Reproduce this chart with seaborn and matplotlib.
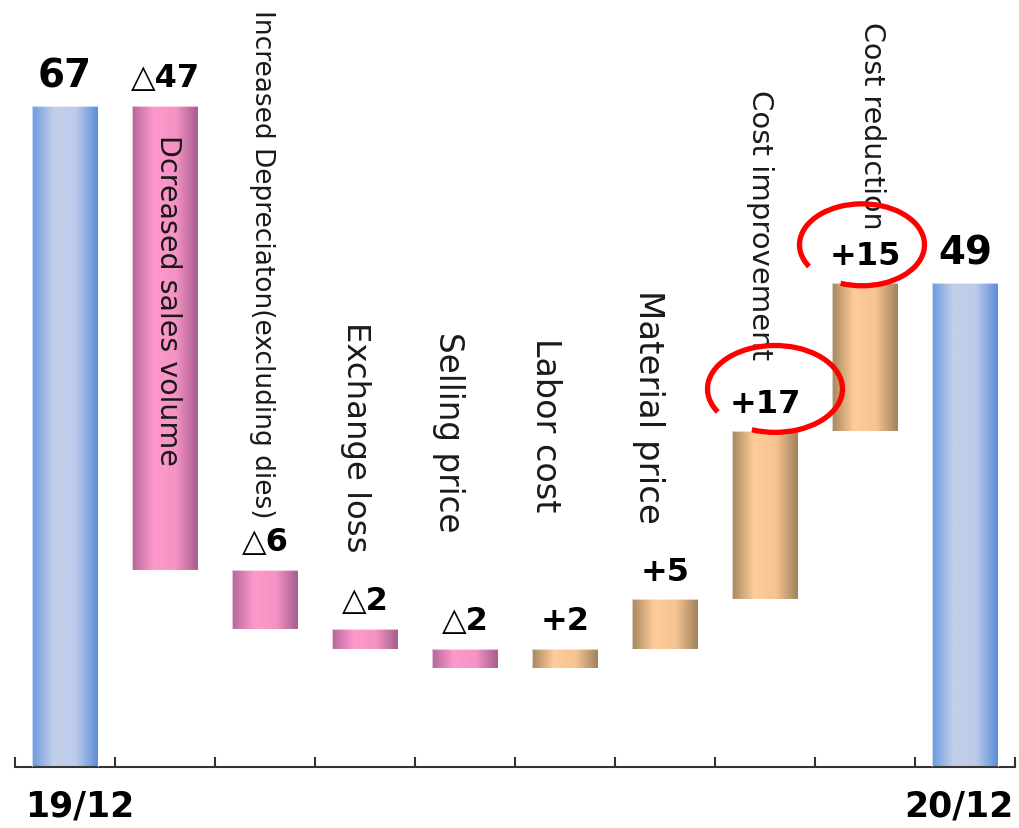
import numpy as np
import matplotlib
matplotlib.use("Agg")
import matplotlib.pyplot as plt
from matplotlib.patches import Arc
import seaborn as sns

sns.set_style("white")
plt.rcParams['font.family'] = ['DejaVu Sans']

# data
categories = ["19/12", "Dcreased sales volume", "Increased Depreciaton(excluding dies)",
              "Exchange loss", "Selling price", "Labor cost", "Material price",
              "Cost improvement", "Cost reduction", "20/12"]
values = [67, -47, -6, -2, -2, 2, 5, 17, 15, 49]
value_labels = ["67", "△47", "△6", "△2", "△2", "+2", "+5", "+17", "+15", "49"]
circled = ["+17", "+15"]

# label placement (offset from bar centre, top of text in data units) and size
label_dx = [0, 0.03, -0.03, -0.09, -0.17, -0.19, -0.17, -0.05, 0.07, 0]
label_top = [0, 64.1, 76.8, 45.2, 44.2, 43.6, 48.4, 68.7, 75.6, 0]
label_size = [0, 20.5, 19, 23.3, 23.5, 24, 24.5, 21, 20.5, 0]

# waterfall geometry
n = len(values)
x = np.arange(n)
bottoms, heights, kinds = [], [], []
run = 0
for i, v in enumerate(values):
    if i == 0 or i == n - 1:
        bottoms.append(0); heights.append(v); kinds.append("total")
        run = v
    else:
        lo = min(run, run + v)
        bottoms.append(lo); heights.append(abs(v))
        kinds.append("down" if v < 0 else "up")
        run += v

cmaps = {
    "total": sns.blend_palette(["#6a99df", "#c4d0ea", "#bccbea", "#5a8dd8"], as_cmap=True),
    "down": sns.blend_palette(["#b3679a", "#ff99cc", "#f593c4", "#a65d8d"], as_cmap=True),
    "up": sns.blend_palette(["#a6865e", "#ffcc99", "#f5c493", "#a0815c"], as_cmap=True),
}

fig = plt.figure(figsize=(10.19, 8.29), dpi=100)
ax = fig.add_axes([15 / 1019, 61 / 829, 1000 / 1019, 768 / 829])

bars = ax.bar(x, heights, bottom=bottoms, width=0.66, color="none", linewidth=0)
grad = np.linspace(0, 1, 256).reshape(1, -1)
for b, k in zip(bars, kinds):
    x0, y0 = b.get_x(), b.get_y()
    im = ax.imshow(grad, cmap=cmaps[k], aspect="auto", interpolation="bilinear",
                   extent=[x0, x0 + b.get_width(), y0, y0 + b.get_height()], zorder=2)
    im.set_clip_path(b)
    ax.add_patch(plt.Rectangle((x0, y0), b.get_width(), b.get_height(), fill=False,
                               edgecolor="white", linewidth=0.8, alpha=0.6, zorder=3))

# value labels above bars
for i, (b, lab) in enumerate(zip(bars, value_labels)):
    top = b.get_y() + b.get_height()
    big = kinds[i] == "total"
    ax.annotate(lab, (b.get_x() + b.get_width() / 2, top), xytext=(0, 14),
                textcoords="offset points", ha="center", va="baseline",
                fontsize=28 if big else 23, fontweight="bold", color="black", zorder=5)

# rotated category labels
for i in range(1, n - 1):
    ax.text(x[i] + label_dx[i], label_top[i], categories[i], rotation=270,
            ha="center", va="top", fontsize=label_size[i], color="#1a1a1a", zorder=4)

# end labels under the axis
ax.text(0.15, -3.9, categories[0], ha="center", va="center", fontsize=25,
        fontweight="bold", color="black")
ax.text(8.94, -3.9, categories[-1], ha="center", va="center", fontsize=25,
        fontweight="bold", color="black")


# Arc takes angles in data space; convert from the ellipse's own parameter
def arc_angle(t, w, h):
    t = np.deg2rad(t)
    return np.rad2deg(np.arctan2(np.sin(t) / (w / h), np.cos(t))) % 360


# red hand-drawn circles around the last two gains
for lab, (cx, cy, w, h) in zip(circled, [(7.1, 38.3, 1.35, 8.8), (7.97, 52.9, 1.25, 8.3)]):
    t1 = arc_angle(250, w, h)
    t2 = arc_angle(212, w, h) + 360
    ax.add_patch(Arc((cx, cy), w, h, theta1=t1, theta2=t2, color="#ff0000",
                     linewidth=3.8, zorder=6))

ax.set_xlim(-0.5, 9.5)
ax.set_ylim(0, 77.8)
for s in ["top", "left", "right"]:
    ax.spines[s].set_visible(False)
ax.spines["bottom"].set_color("#333333")
ax.spines["bottom"].set_linewidth(1.5)
ax.set_xticks(np.arange(-0.5, 10, 1.0))
ax.set_xticklabels([])
ax.tick_params(axis="x", direction="in", length=7, width=1.5, color="#333333", bottom=True)
ax.set_yticks([])
ax.patch.set_alpha(0)

fig.savefig("out.png", dpi=100)
